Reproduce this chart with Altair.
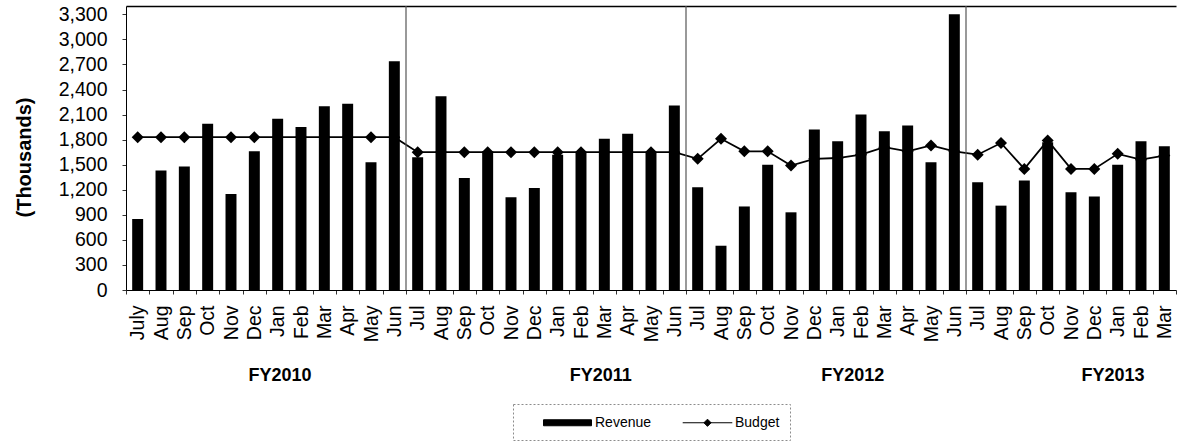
import altair as alt
import pandas as pd

# Fiscal years and their month labels (FY2013 is year-to-date through March)
fiscal_years = ["FY2010", "FY2011", "FY2012", "FY2013"]
months_fy2010 = ["July", "Aug", "Sep", "Oct", "Nov", "Dec", "Jan", "Feb", "Mar", "Apr", "May", "Jun"]
months_fy2011 = ["Jul", "Aug", "Sep", "Oct", "Nov", "Dec", "Jan", "Feb", "Mar", "Apr", "May", "Jun"]
months_fy2012 = ["Jul", "Aug", "Sep", "Oct", "Nov", "Dec", "Jan", "Feb", "Mar", "Apr", "May", "Jun"]
months_fy2013 = ["Jul", "Aug", "Sep", "Oct", "Nov", "Dec", "Jan", "Feb", "Mar"]

# Monthly revenue (thousands)
revenue_fy2010 = [850, 1430, 1480, 1990, 1150, 1660, 2050, 1950, 2200, 2230, 1530, 2740]
revenue_fy2011 = [1590, 2320, 1340, 1660, 1110, 1220, 1620, 1640, 1810, 1870, 1640, 2210]
revenue_fy2012 = [1230, 530, 1000, 1500, 930, 1920, 1780, 2100, 1900, 1970, 1530, 3300]
revenue_fy2013 = [1290, 1010, 1310, 1770, 1170, 1120, 1500, 1780, 1720]

# Monthly budget (thousands)
budget_fy2010 = [1830] * 12
budget_fy2011 = [1650] * 12
budget_fy2012 = [1570, 1810, 1660, 1660, 1490, 1570, 1580, 1620, 1710, 1660, 1730, 1660]
budget_fy2013 = [1620, 1760, 1450, 1790, 1450, 1450, 1630, 1560, 1610]

y_ticks = list(range(0, 3301, 300))

# Fiscal-year boundaries and label centres, in month-index units
separator_positions = [12, 24, 36]
fy_label_positions = [6.6, 20.35, 31.15, 42.3]

rows = []
idx = 0
for fy, m_list, r_list, b_list in zip(
    fiscal_years,
    [months_fy2010, months_fy2011, months_fy2012, months_fy2013],
    [revenue_fy2010, revenue_fy2011, revenue_fy2012, revenue_fy2013],
    [budget_fy2010, budget_fy2011, budget_fy2012, budget_fy2013],
):
    for m, r, b in zip(m_list, r_list, b_list):
        rows.append({"key": f"{fy}|{m}", "idx": idx, "revenue": r, "budget": b})
        idx += 1
monthly = pd.DataFrame(rows)
order = list(monthly["key"])
n_months = len(order)

separators = pd.DataFrame({"pos": separator_positions})
fy_labels = pd.DataFrame({"pos": fy_label_positions, "label": fiscal_years})

FONT = "Liberation Sans"
PLOT_W, PLOT_H = 1050, 284

x_axis = alt.Axis(
    title=None,
    labelExpr="split(datum.value, '|')[1]",
    labelAngle=270,
    labelFontSize=19.5,
    labelPadding=11,
    labelOverlap=False,
    labelBound=False,
    tickBand="extent",
    tickSize=4,
    tickColor="#333333",
    domainColor="black",
    labelColor="black",
)

y_axis = alt.Axis(
    values=y_ticks,
    format=",d",
    title="(Thousands)",
    titleFontSize=20,
    titleFontWeight="bold",
    titleColor="black",
    titleAngle=270,
    titleAlign="center",
    titleBaseline="middle",
    titleX=-102,
    titleY=151,
    labelFontSize=19.5,
    labelPadding=15,
    labelColor="black",
    tickSize=4,
    tickColor="#333333",
    domainColor="black",
    grid=False,
)

y_scale = alt.Scale(domain=[0, 3400], nice=False)

# Legend glyphs: a wide filled swatch for revenue, a line with a diamond for budget
revenue_path = "M-3,-0.375H3V0.375H-3Z"
budget_path = "M-3.1,0H3.1M0,-0.45L0.45,0L0,0.45L-0.45,0Z"

legend_def = alt.Legend(
    title=None,
    orient="none",
    legendX=387,
    legendY=398,
    direction="horizontal",
    columns=2,
    gridAlign="all",
    padding=10,
    columnPadding=11,
    symbolSize=256,
    symbolOffset=36,
    labelOffset=19,
    symbolType={"expr": f"datum.value === 'Revenue' ? '{revenue_path}' : '{budget_path}'"},
    symbolFillColor="black",
    symbolStrokeColor="black",
    symbolStrokeWidth=1,
    symbolOpacity=1,
    labelFont=FONT,
    labelFontSize=14,
    labelColor="black",
    strokeColor="#8c8c8c",
    fillColor="white",
)

color_enc = alt.Color(
    "series:N",
    scale=alt.Scale(domain=["Revenue", "Budget"], range=["black", "black"]),
    legend=legend_def,
)

bars = (
    alt.Chart(monthly)
    .transform_calculate(series="'Revenue'")
    .mark_bar(width=alt.RelativeBandSize(0.47))
    .encode(
        x=alt.X("key:N", sort=order, scale=alt.Scale(paddingInner=0, paddingOuter=0), axis=x_axis),
        y=alt.Y("revenue:Q", scale=y_scale, axis=y_axis),
        color=color_enc,
    )
)

budget_line = (
    alt.Chart(monthly)
    .transform_calculate(series="'Budget'")
    .mark_line(
        strokeWidth=1.8,
        point=alt.OverlayMarkDef(shape="diamond", size=144, filled=True, opacity=1),
    )
    .encode(
        x=alt.X("key:N", sort=order, bandPosition=0.5, axis=x_axis),
        y=alt.Y("budget:Q", scale=y_scale, axis=y_axis),
        order=alt.Order("idx:Q"),
        color=color_enc,
    )
)

top_axis = alt.Axis(
    orient="top",
    title=None,
    labels=False,
    ticks=False,
    grid=False,
    domainColor="black",
    domainWidth=1.5,
)
pos_scale = alt.Scale(domain=[0, n_months], nice=False, zero=False)

year_rules = (
    alt.Chart(separators)
    .mark_rule(color="#555555", strokeWidth=1.2)
    .encode(x=alt.X("pos:Q", scale=pos_scale, axis=top_axis))
)

year_text = (
    alt.Chart(fy_labels)
    .mark_text(font=FONT, fontSize=18, fontWeight="bold", color="black", align="center", baseline="middle")
    .encode(
        x=alt.X("pos:Q", scale=pos_scale, axis=top_axis),
        y=alt.value(370),
        text="label:N",
    )
)

chart = (
    alt.layer(alt.layer(bars, budget_line), alt.layer(year_rules, year_text))
    .resolve_scale(x="independent")
    .properties(
        width=PLOT_W,
        height=PLOT_H,
        autosize=alt.AutoSizeParams(type="none"),
        padding={"left": 126, "top": 6, "right": 1, "bottom": 151},
        background="white",
    )
    .configure_view(strokeWidth=0)
    .configure_axis(labelFont=FONT, titleFont=FONT)
    .configure_legend(strokeDash=[2, 2])
)

chart.save("out.html", embed_options={"renderer": "svg", "actions": False})
